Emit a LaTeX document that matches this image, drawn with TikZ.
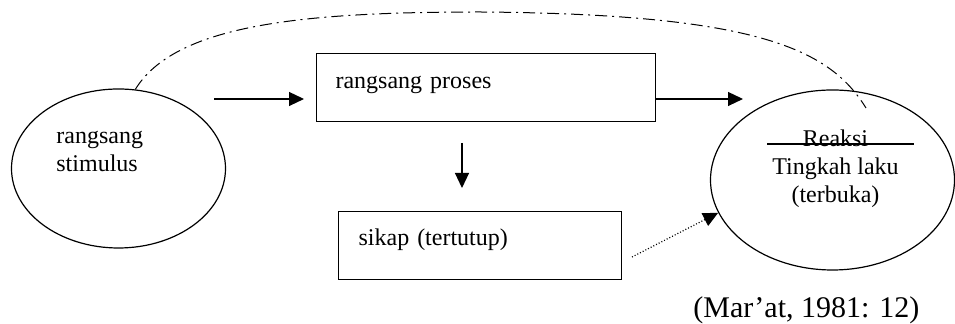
\documentclass[tikz,border=0pt]{standalone}
\usepackage{fontspec}
\setmainfont{Liberation Serif}
\usetikzlibrary{shapes.geometric}
\usetikzlibrary{arrows.meta}
\tikzset{
    oval/.style={draw=black, ellipse, line width=0.6pt, inner sep=0pt},
    kotak/.style={draw=black, rectangle, line width=0.6pt, align=left, inner ysep=0pt,
        font=\fontsize{12}{14}\selectfont},
    tulisan/.style={inner sep=0pt, font=\fontsize{12}{14}\selectfont},
    panah/.style={draw=black, line width=0.6pt, -{Triangle[length=7.5pt,width=7pt]}},
    titik/.style={draw=black, line width=0.6pt, dash pattern=on 0.5pt off 1pt,
        -{Triangle[length=7.5pt,width=7pt]}},
    balik/.style={draw=black, line width=0.5pt,
        dash pattern=on 6pt off 2.5pt on 1pt off 2.5pt}
}
\begin{document}
\begin{tikzpicture}[x=0.5pt, y=-0.5pt]
\useasboundingbox (0,0) rectangle (955,324);
\node[style={oval}, minimum width=107pt, minimum height=79.5pt] (stimulus) at (118.5,168.5) {};
\node[style={tulisan}, align=left, anchor=base west] (stimulustxt) at (56,172) {rangsang\\stimulus};
\node[style={kotak}, text width=150.5pt, inner xsep=9.5pt, text height=17.5pt, text depth=16.5pt,
  anchor=north west] (proses) at (316,53) {rangsang proses};
\node[style={kotak}, text width=121.5pt, inner xsep=10pt, text height=17pt, text depth=17pt,
  anchor=north west] (sikap) at (338,211) {sikap (tertutup)};
\node[style={oval}, minimum width=122pt, minimum height=90pt] (reaksi) at (832.5,180) {};
\node[style={tulisan}, align=center, anchor=base] (reaksitxt) at (835.5,203) {Reaksi\\Tingkah laku\\(terbuka)};
\node[style={tulisan}, font=\fontsize{15}{18}\selectfont, anchor=base west] (sumber) at (693,318)
  {(Mar’at, 1981: 12)};
\coordinate (a1) at (214,99);
\coordinate (a2) at (743,99);
\coordinate (b1) at (462,143);
\coordinate (c1) at (632,257);
\coordinate (d1) at (866,108);
\coordinate (s1) at (767,144);
\coordinate (s2) at (914,144);
\draw[style={panah}, shorten >=6pt]
  (a1) -- (a1 -| proses.west);
\draw[style={panah}]
  (a1 -| proses.east) -- (a2);
\draw[style={panah}, shorten >=11.5pt]
  (b1) -- (b1 |- sikap.north);
\draw[style={titik}]
  (c1) -- (reaksi.196);
\draw[style={balik}]
  (stimulus.78) .. controls (175,25) and (300,12) .. (480,12)
  .. controls (760,14) and (830,50) .. (d1);
\draw[line width=0.6pt]
  (s1) -- (s2);
\end{tikzpicture}
\end{document}
